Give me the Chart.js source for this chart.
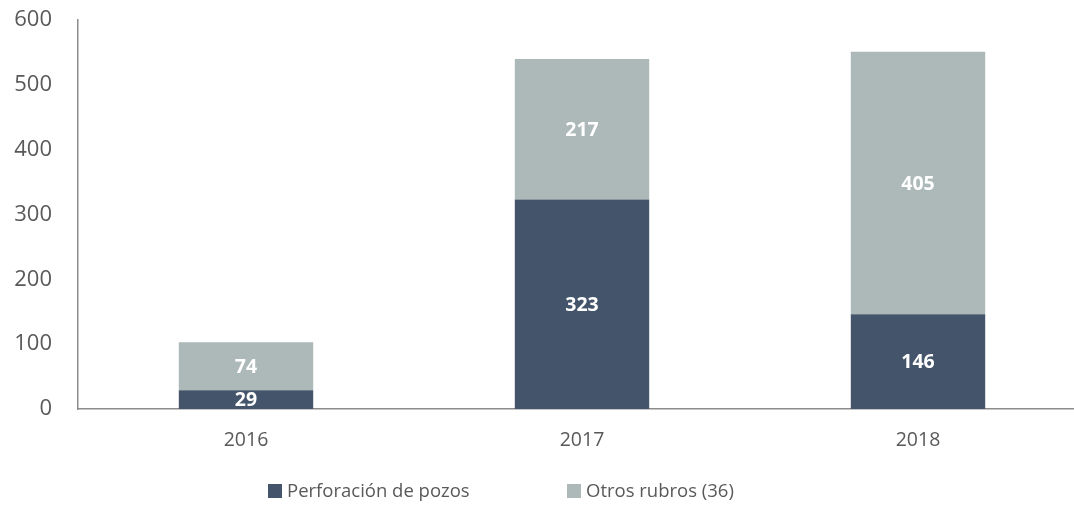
<!DOCTYPE html>
<html>
<head>
<meta charset="utf-8">
<script src="https://cdn.jsdelivr.net/npm/chart.js@4.4.1/dist/chart.umd.min.js"></script>
<style>
  html, body { margin: 0; padding: 0; background: #fff; overflow: hidden; }
  #wrap { position: relative; width: 1074px; height: 505px; overflow: hidden; }
  #c { position: absolute; left: 0; top: 0; }
  .lg { position: absolute; font-family: "Open Sans", sans-serif; font-size: 18.5px; color: #595959; white-space: nowrap; line-height: 20px; }
  .lg span.box { position: absolute; width: 14px; height: 14px; left: 0; top: 4px; }
  .lg span.txt { position: absolute; left: 19px; top: 0; }
</style>
</head>
<body>
<div id="wrap">
  <canvas id="c" width="1086" height="505"></canvas>
</div>
<script>
const categories = ["2016", "2017", "2018"];
const seriesNames = ["Perforación de pozos", "Otros rubros (36)"];
const perforacion = [29, 323, 146];
const otros = [74, 217, 405];
const yTicks = [0, 100, 200, 300, 400, 500, 600];

const colors = ["#44546A", "#ADB9B9"];
const textColor = "#595959";
const fontFamily = "'Open Sans', sans-serif";

const dataLabels = {
  id: "dataLabels",
  afterDatasetsDraw(chart) {
    const ctx = chart.ctx;
    ctx.save();
    ctx.fillStyle = "#FFFFFF";
    ctx.font = "bold 19.5px " + fontFamily;
    ctx.textAlign = "center";
    ctx.textBaseline = "middle";
    chart.data.datasets.forEach((ds, i) => {
      const meta = chart.getDatasetMeta(i);
      meta.data.forEach((bar, j) => {
        const y = (bar.y + bar.base) / 2;
        ctx.fillText(String(ds.data[j]), bar.x, y + 1);
      });
    });
    ctx.restore();
  }
};

const chart = new Chart(document.getElementById("c"), {
  type: "bar",
  data: {
    labels: categories,
    datasets: [
      { label: seriesNames[0], data: perforacion, backgroundColor: colors[0], borderWidth: 0 },
      { label: seriesNames[1], data: otros, backgroundColor: colors[1], borderWidth: 0 }
    ]
  },
  options: {
    responsive: false,
    animation: false,
    devicePixelRatio: 1,
    layout: { padding: { top: 20, right: 0, bottom: 56, left: 0 } },
    plugins: { legend: { display: false }, tooltip: { enabled: false } },
    datasets: { bar: { categoryPercentage: 1, barPercentage: 0.4 } },
    scales: {
      x: {
        stacked: true,
        afterFit(scale) { scale.height = 40; scale.paddingTop = 0; scale.paddingBottom = 0; },
        grid: { display: false, drawTicks: false },
        border: { display: true, color: "#8C8C8C", width: 1.5 },
        ticks: { color: textColor, font: { family: fontFamily, size: 19.5 }, padding: 20, maxRotation: 0 }
      },
      y: {
        stacked: true,
        min: 0,
        max: 600,
        afterBuildTicks(scale) { scale.ticks = yTicks.map(v => ({ value: v })); },
        afterFit(scale) { scale.width = 78; scale.paddingTop = 0; scale.paddingBottom = 0; },
        grid: { display: false, drawTicks: false },
        border: { display: true, color: "#8C8C8C", width: 1.5 },
        ticks: { color: textColor, font: { family: fontFamily, size: 22 }, padding: 26 }
      }
    }
  },
  plugins: [dataLabels]
});

// Legend (HTML), built from the series names and colours
const legendPos = [268, 567];
seriesNames.forEach((name, i) => {
  const d = document.createElement("div");
  d.className = "lg";
  d.style.left = legendPos[i] + "px";
  d.style.top = "480px";
  d.innerHTML = '<span class="box" style="background:' + colors[i] + '"></span><span class="txt"></span>';
  d.querySelector(".txt").textContent = name;
  document.getElementById("wrap").appendChild(d);
});
</script>
</body>
</html>
